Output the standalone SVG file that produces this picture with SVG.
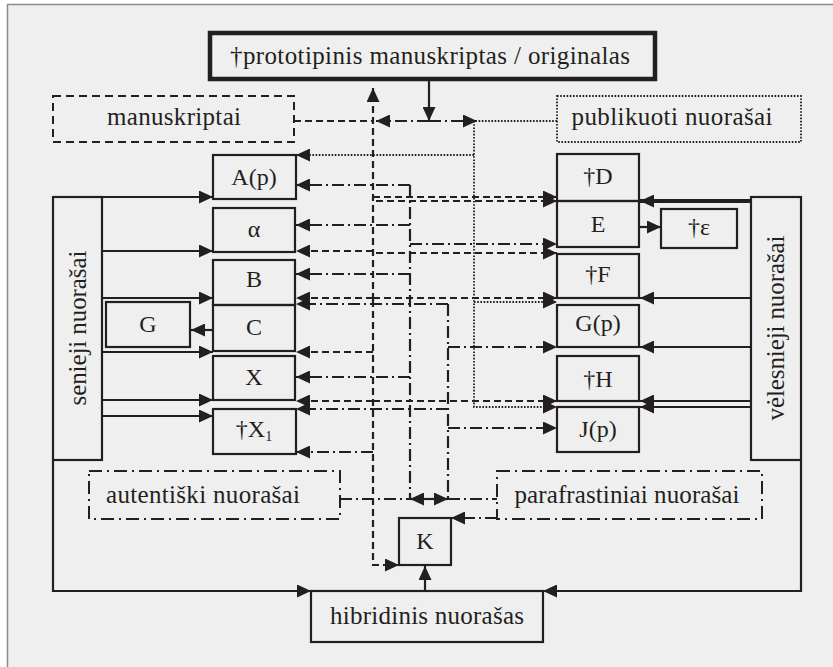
<svg xmlns="http://www.w3.org/2000/svg" width="833" height="667" viewBox="0 0 833 667">
<defs>
<marker id="ah" markerUnits="userSpaceOnUse" markerWidth="15" markerHeight="13" refX="14" refY="6.5" orient="auto">
<path d="M0,0 L14,6.5 L0,13 Z" fill="#231f20"/>
</marker>
<style>
.box{fill:none;stroke:#231f20;stroke-width:2.2}
.thick{fill:none;stroke:#231f20;stroke-width:4.5}
.bdash{fill:none;stroke:#231f20;stroke-width:2;stroke-dasharray:8 5}
.bdot{fill:none;stroke:#231f20;stroke-width:1.8;stroke-dasharray:1.6 1.6}
.bdd{fill:none;stroke:#231f20;stroke-width:2;stroke-dasharray:13 5 2 5}
.t{font-family:"Liberation Serif","DejaVu Serif",serif;font-size:24px;fill:#231f20;text-anchor:middle}
.l{font-family:"Liberation Serif","DejaVu Serif",serif;font-size:25px;fill:#231f20;text-anchor:middle}
.c path{fill:none;stroke:#231f20;stroke-width:2.2}
.c .d{stroke-dasharray:7 4}
.c .dd{stroke-dasharray:12 4 2 4}
.c .o{stroke-dasharray:1.6 1.6;stroke-width:1.8}
.c .a{marker-end:url(#ah)}
</style>
</defs>
<rect x="7.5" y="4.5" width="900" height="700" fill="#efefef" stroke="#8c8c8c" stroke-width="1.5"/>

<g id="connectors" class="c">
<path class="a" d="M429,80 L429,121"/>
<path class="d" d="M294,121 L373,121"/>
<path class="d a" d="M373,300 L373,88"/>
<path class="d a" d="M373,300 L373,565 L399,565"/>
<path class="d a" d="M373,197 L557,197"/>
<path class="d a" d="M376,201 L557,201"/>
<path class="d a" d="M373,251 L296,251"/>
<path class="d a" d="M376,253 L557,253"/>
<path class="d a" d="M373,298 L296,298"/>
<path class="d a" d="M373,298 L557,298"/>
<path class="d a" d="M373,352 L296,352"/>
<path class="d a" d="M373,401 L296,401"/>
<path class="d a" d="M373,401 L557,401"/>
<path class="dd a" d="M373,452 L296,452"/>
<path class="dd a" d="M429,121 L376,121"/>
<path class="dd a" d="M429,121 L477,121"/>
<path class="dd" d="M410,185 L410,499"/>
<path class="dd a" d="M410,185 L296,185"/>
<path class="dd a" d="M410,225 L296,225"/>
<path class="dd a" d="M410,244 L557,244"/>
<path class="dd a" d="M410,274 L296,274"/>
<path class="dd a" d="M410,377 L296,377"/>
<path class="dd" d="M340,499 L410,499"/>
<path class="dd" d="M448,304 L448,499"/>
<path class="dd a" d="M448,304 L296,304"/>
<path class="dd a" d="M448,347 L557,347"/>
<path class="dd a" d="M448,409 L296,409"/>
<path class="dd a" d="M448,428 L557,428"/>
<path class="dd" d="M448,499 L497,499"/>
<path class="a" d="M429,499 L410,499"/>
<path class="a" d="M429,499 L448,499"/>
<path class="dd a" d="M497,518 L451,518"/>
<path class="o" d="M557,121 L477,121"/>
<path class="o a" d="M474,121 L474,407 L557,407"/>
<path class="o a" d="M474,155 L296,155"/>
<path class="o a" d="M474,302 L557,302"/>
<path class="a" d="M53,460 L53,591 L311,591"/>
<path class="a" d="M102,197 L213,197"/>
<path class="a" d="M102,251 L213,251"/>
<path class="a" d="M102,298 L213,298"/>
<path class="a" d="M102,352 L213,352"/>
<path class="a" d="M102,400 L213,400"/>
<path class="a" d="M102,416 L213,416"/>
<path class="a" d="M801,460 L801,591 L543,591"/>
<path class="a" style="stroke-width:4" d="M751,201 L640,201"/>
<path class="a" d="M751,298 L640,298"/>
<path class="a" d="M751,347 L640,347"/>
<path class="a" d="M751,401 L640,401"/>
<path class="a" d="M751,407 L640,407"/>
<path class="a" d="M639,227 L661,227"/>
<path class="a" d="M213,330 L191,330"/>
<path class="a" d="M425,591 L425,566"/>
</g>

<g id="prototype"><rect class="thick" x="210" y="33" width="445" height="46"/><text class="l" x="430" y="64" textLength="400" lengthAdjust="spacing">†prototipinis manuskriptas / originalas</text></g>
<g id="manuskriptai"><rect class="bdash" x="53" y="96" width="241" height="46"/><text class="l" x="174" y="125" textLength="134" lengthAdjust="spacing">manuskriptai</text></g>
<g id="publikuoti"><rect class="bdot" x="557" y="96" width="244" height="46"/><text class="l" x="672" y="125" textLength="201" lengthAdjust="spacing">publikuoti nuorašai</text></g>

<g id="senieji"><rect class="box" x="53" y="197" width="49" height="263"/><text class="l" transform="translate(86,328) rotate(-90)" textLength="155" lengthAdjust="spacing">senieji nuorašai</text></g>
<g id="velesnieji"><rect class="box" x="751" y="197" width="50" height="263"/><text class="l" transform="translate(784,328) rotate(-90)" textLength="185" lengthAdjust="spacing">vėlesnieji nuorašai</text></g>

<g id="Ap"><rect class="box" x="213" y="155" width="83" height="44"/><text class="t" x="254" y="185">A(p)</text></g>
<g id="alpha"><rect class="box" x="213" y="208" width="82" height="44"/><text class="t" x="254" y="237">α</text></g>
<g id="B"><rect class="box" x="213" y="260" width="82" height="45"/><text class="t" x="254" y="287">B</text></g>
<g id="C"><rect class="box" x="213" y="305" width="82" height="46"/><text class="t" x="254" y="335">C</text></g>
<g id="X"><rect class="box" x="213" y="356" width="82" height="44"/><text class="t" x="254" y="385">X</text></g>
<g id="X1"><rect class="box" x="213" y="409" width="83" height="45"/><text class="t" x="254" y="437">†X<tspan font-size="14" dy="4">1</tspan></text></g>
<g id="G"><rect class="box" x="106" y="302" width="84" height="45"/><text class="t" x="148" y="332">G</text></g>

<g id="D"><rect class="box" x="557" y="154" width="82" height="47"/><text class="t" x="598" y="184">†D</text></g>
<g id="E"><rect class="box" x="557" y="201" width="82" height="46"/><text class="t" x="598" y="232">E</text></g>
<g id="eps"><rect class="box" x="661" y="209" width="76" height="39"/><text class="t" x="699" y="235">†ε</text></g>
<g id="F"><rect class="box" x="557" y="254" width="82" height="44"/><text class="t" x="598" y="282">†F</text></g>
<g id="Gp"><rect class="box" x="557" y="305" width="82" height="42"/><text class="t" x="598" y="331">G(p)</text></g>
<g id="H"><rect class="box" x="557" y="356" width="82" height="45"/><text class="t" x="598" y="387">†H</text></g>
<g id="Jp"><rect class="box" x="557" y="407" width="82" height="45"/><text class="t" x="598" y="437">J(p)</text></g>

<g id="autentiski"><rect class="bdd" x="89" y="471" width="251" height="48"/><text class="l" x="203" y="503" textLength="194" lengthAdjust="spacing">autentiški nuorašai</text></g>
<g id="parafrastiniai"><rect class="bdd" x="497" y="471" width="265" height="48"/><text class="l" x="627" y="503" textLength="225" lengthAdjust="spacing">parafrastiniai nuorašai</text></g>
<g id="K"><rect class="box" x="399" y="518" width="52" height="47"/><text class="t" x="425" y="549">K</text></g>
<g id="hibridinis"><rect class="box" x="311" y="591" width="232" height="51"/><text class="l" x="427" y="624" textLength="194" lengthAdjust="spacing">hibridinis nuorašas</text></g>
</svg>
